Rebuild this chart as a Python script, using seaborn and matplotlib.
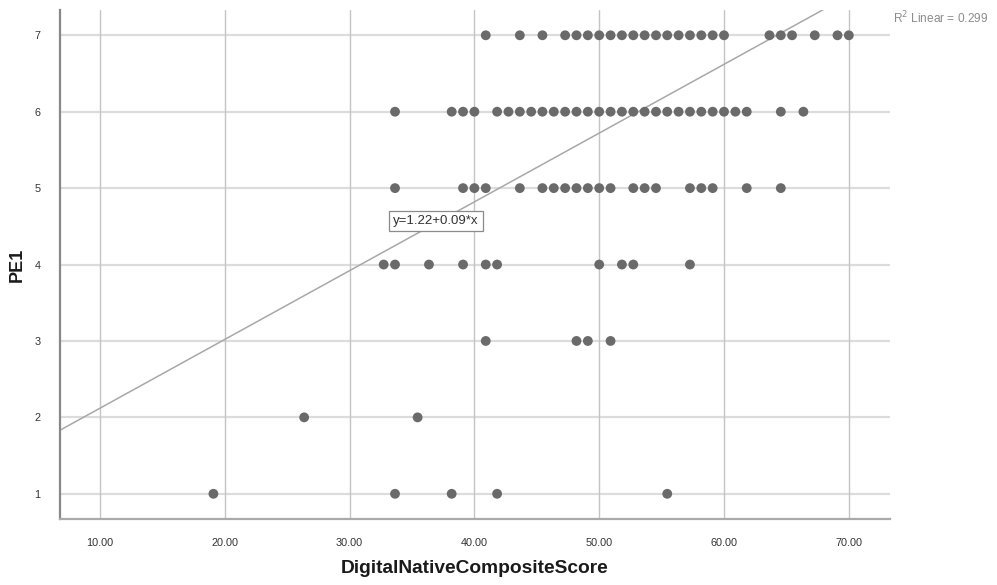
import matplotlib
matplotlib.use("Agg")
import matplotlib.pyplot as plt
import seaborn as sns
import pandas as pd
import numpy as np

# PE1 response levels and the composite scores observed at each level
pe1_levels = [7, 6, 5, 4, 3, 2, 1]
scores_pe7 = [40.91, 43.64, 45.45, 47.27, 48.18, 49.09, 50.00, 50.91, 51.82, 52.73,
              53.64, 54.55, 55.45, 56.36, 57.27, 58.18, 59.09, 60.00, 63.64, 64.55,
              65.45, 67.27, 69.09, 70.00]
scores_pe6 = [33.64, 38.18, 39.09, 40.00, 41.82, 42.73, 43.64, 44.55, 45.45, 46.36,
              47.27, 48.18, 49.09, 50.00, 50.91, 51.82, 52.73, 53.64, 54.55, 55.45,
              56.36, 57.27, 58.18, 59.09, 60.00, 60.91, 61.82, 64.55, 66.36]
scores_pe5 = [33.64, 39.09, 40.00, 40.91, 43.64, 45.45, 46.36, 47.27, 48.18, 49.09,
              50.00, 50.91, 52.73, 53.64, 54.55, 57.27, 58.18, 59.09, 61.82, 64.55]
scores_pe4 = [32.73, 33.64, 36.36, 39.09, 40.91, 41.82, 50.00, 51.82, 52.73, 57.27]
scores_pe3 = [40.91, 48.18, 49.09, 50.91]
scores_pe2 = [26.36, 35.45]
scores_pe1 = [19.09, 33.64, 38.18, 41.82, 55.45]

# Linear fit as reported
intercept = 1.22
slope = 0.09
r_squared = 0.299

x_ticks = [10, 20, 30, 40, 50, 60, 70]
x_tick_labels = ["10.00", "20.00", "30.00", "40.00", "50.00", "60.00", "70.00"]
y_ticks = [1, 2, 3, 4, 5, 6, 7]

score_groups = [scores_pe7, scores_pe6, scores_pe5, scores_pe4,
                scores_pe3, scores_pe2, scores_pe1]
rows = []
for level, group in zip(pe1_levels, score_groups):
    for s in group:
        rows.append({"DigitalNativeCompositeScore": s, "PE1": level})
df = pd.DataFrame(rows)

sns.set_theme(style="white")
plt.rcParams["font.family"] = ["Liberation Sans", "DejaVu Sans"]

fig = plt.figure(figsize=(9.97, 5.85), dpi=100)
ax = fig.add_axes([0.0602, 0.1128, 0.8325, 0.870])

xmin, xmax = 6.8, 73.3
ymin, ymax = 0.67, 7.33
ax.set_xlim(xmin, xmax)
ax.set_ylim(ymin, ymax)

# Grid: light horizontal bands at each level, thin vertical lines at x ticks
for yt in y_ticks:
    ax.axhline(yt, color="#dcdcdc", lw=1.6, zorder=0)
for xt in x_ticks:
    ax.axvline(xt, color="#c4c4c4", lw=1.0, zorder=0)

sns.scatterplot(data=df, x="DigitalNativeCompositeScore", y="PE1", ax=ax,
                color="#6a6a6a", s=50, edgecolor="none", linewidth=0, zorder=3)

# Fit line across the full x range
line_x = np.array([xmin, xmax])
fit_df = pd.DataFrame({"x": line_x, "y": intercept + slope * line_x})
sns.lineplot(data=fit_df, x="x", y="y", ax=ax, color="#a8a8a8", lw=1.1, zorder=2)

ax.text(33.5, 4.575, f"y={intercept:.2f}+{slope:.2f}*x", fontsize=9.5,
        color="#333333", va="center", ha="left", zorder=5,
        bbox=dict(boxstyle="square,pad=0.3", fc="white", ec="#8a8a8a", lw=0.9))

fig.text(0.896, 0.969, f"R$^2$ Linear = {r_squared:.3f}", fontsize=8.6,
         color="#8c8c8c", ha="left", va="center")

ax.set_xticks(x_ticks)
ax.set_xticklabels(x_tick_labels)
ax.set_yticks(y_ticks)
ax.set_yticklabels([str(v) for v in y_ticks])
ax.tick_params(axis="both", length=0, labelsize=7.8, colors="#333333")
ax.tick_params(axis="x", pad=14)
ax.tick_params(axis="y", pad=14)

ax.set_xlabel("DigitalNativeCompositeScore", fontsize=13.8, fontweight="bold",
              color="#1a1a1a", labelpad=8)
ax.set_ylabel("PE1", fontsize=13, fontweight="bold", color="#1a1a1a", labelpad=6)

for side in ["top", "right"]:
    ax.spines[side].set_visible(False)
ax.spines["left"].set_color("#888888")
ax.spines["left"].set_linewidth(1.6)
ax.spines["bottom"].set_color("#aaaaaa")
ax.spines["bottom"].set_linewidth(1.6)

fig.savefig("out.png", dpi=100)
